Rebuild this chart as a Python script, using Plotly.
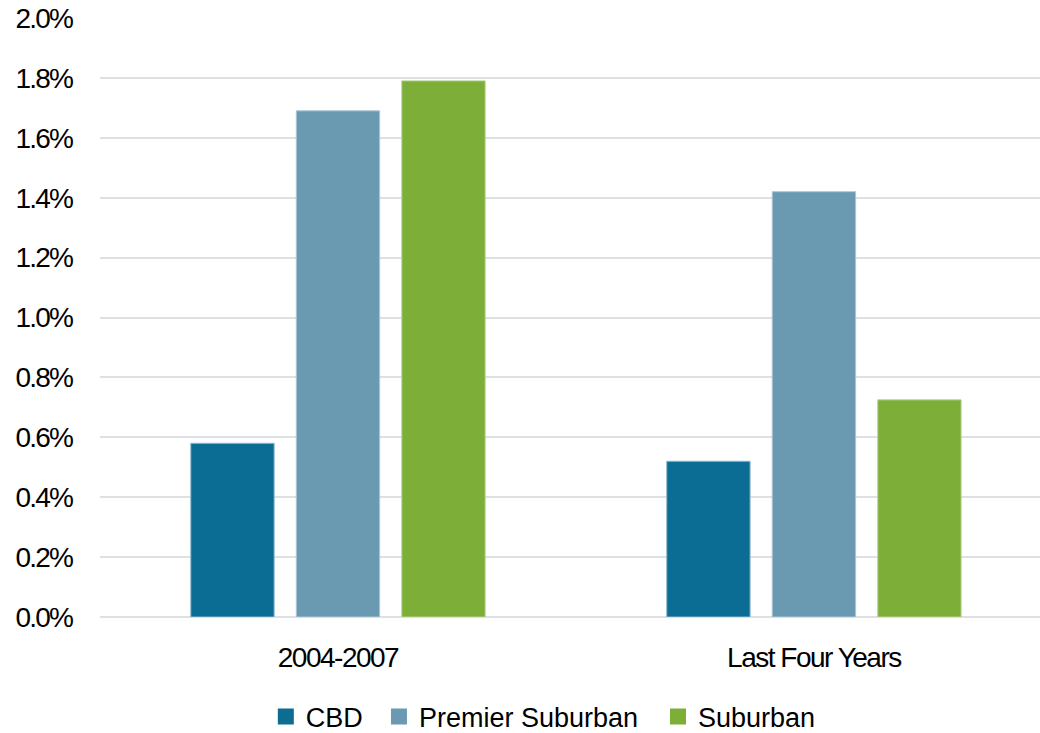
import plotly.graph_objects as go

# Growth rate by market type and period
periods = ["2004-2007", "Last Four Years"]
series_names = ["CBD", "Premier Suburban", "Suburban"]
cbd = [0.0058, 0.0052]
premier_suburban = [0.0169, 0.0142]
suburban = [0.0179, 0.00725]
y_ticks = [0.0, 0.002, 0.004, 0.006, 0.008, 0.010, 0.012, 0.014, 0.016, 0.018, 0.020]

colors = ["#0b6c94", "#6a9ab1", "#7cae38"]
edge_colors = ["#8fb8cc", "#a9c6d4", "#b6d38f"]
font_family = "Liberation Sans, Arial, sans-serif"

# one single-entry legend per series, placed along the bottom
legend_ids = ["legend", "legend2", "legend3"]
legend_x = [0.2556, 0.3644, 0.6327]

fig = go.Figure()
for name, vals, col, edge, lid in zip(series_names, [cbd, premier_suburban, suburban],
                                      colors, edge_colors, legend_ids):
    fig.add_trace(go.Bar(
        name=name, x=periods, y=vals,
        marker=dict(color=col, line=dict(color=edge, width=1)),
        showlegend=False,
    ))
    # legend entry with a square swatch
    fig.add_trace(go.Scatter(
        name=name, x=[None], y=[None], mode="markers",
        marker=dict(symbol="square", size=16, color=col),
        showlegend=True, legend=lid,
    ))

legend_style = dict(
    orientation="h", xref="container", yref="container",
    xanchor="left", y=0.022, yanchor="middle",
    font=dict(size=27), itemwidth=30, bgcolor="rgba(0,0,0,0)",
)

fig.update_layout(
    width=1040, height=733,
    margin=dict(l=100, r=0, t=18, b=116, autoexpand=False),
    paper_bgcolor="white", plot_bgcolor="white",
    barmode="group", bargap=0.335, bargroupgap=0.21,
    font=dict(family=font_family, color="#000000", size=28),
    legend=dict(legend_style, x=legend_x[0]),
    legend2=dict(legend_style, x=legend_x[1]),
    legend3=dict(legend_style, x=legend_x[2]),
    xaxis=dict(
        type="category", range=[-0.5, 1.475],
        showgrid=False, showline=False, ticks="",
        tickfont=dict(size=28), ticklabelstandoff=21,
    ),
    yaxis=dict(
        range=[0, 0.02], tickvals=y_ticks, tickformat=".1%",
        showgrid=True, gridcolor="#dde0e5", gridwidth=2,
        zeroline=True, zerolinecolor="#dde0e5", zerolinewidth=2,
        showline=False, ticks="",
        tickfont=dict(size=28), ticklabelstandoff=27,
    ),
)

# tighter letter spacing on the axis labels
post = """
var gd = document.getElementById('{plot_id}');
function tighten() {
  gd.querySelectorAll('.ytick text').forEach(function (t) { t.style.letterSpacing = '-1.8px'; });
  gd.querySelectorAll('.xtick text').forEach(function (t) { t.style.letterSpacing = '-1.5px'; });
}
tighten();
gd.on('plotly_afterplot', tighten);
"""

fig.write_html("out.html", post_script=post)
